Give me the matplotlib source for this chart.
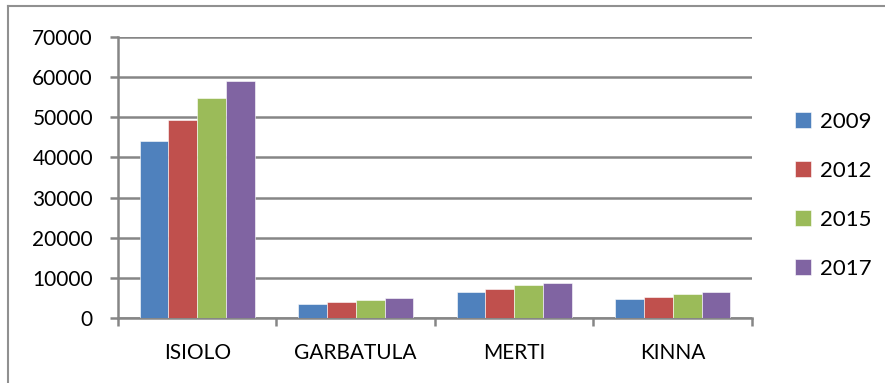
import numpy as np
import matplotlib.pyplot as plt
from matplotlib.lines import Line2D

plt.rcParams['font.family'] = ['Lato', 'DejaVu Sans']

places = ['ISIOLO', 'GARBATULA', 'MERTI', 'KINNA']
years = ['2009', '2012', '2015', '2017']
v2009 = [44000, 3600, 6550, 4800]
v2012 = [49200, 4050, 7250, 5300]
v2015 = [54800, 4550, 8150, 5950]
v2017 = [59000, 5000, 8750, 6450]
colors = ['#4F81BD', '#C0504D', '#9BBB59', '#8064A2']

fig = plt.figure(figsize=(8.85, 3.83), dpi=100)
ax = fig.add_axes([0.1333, 0.1697, 0.7164, 0.7337])

x = np.arange(len(places))
w = 0.182
for k, (vals, yr) in enumerate(zip([v2009, v2012, v2015, v2017], years)):
    ax.bar(x + (k - 1.5) * w, vals, w, color=colors[k], label=yr, zorder=3,
           edgecolor='white', linewidth=0.4)

gray = '#868686'
ax.set_xlim(-0.5, 3.5)
ax.set_ylim(0, 70000)
ax.set_yticks(range(0, 70001, 10000))
ax.grid(axis='y', color=gray, linewidth=1.8, zorder=0)
ax.set_xticks(x)
ax.set_xticklabels(places, fontsize=15)
ax.set_xticks(np.arange(-0.5, 4, 1), minor=True)
ax.tick_params(axis='x', which='major', length=0, pad=18)
ax.tick_params(axis='x', which='minor', length=6, width=1.8, color=gray)
ax.tick_params(axis='y', length=6, width=1.8, color=gray, labelsize=15, pad=12)
for s in ['top', 'right']:
    ax.spines[s].set_visible(False)
for s in ['left', 'bottom']:
    ax.spines[s].set_color(gray)
    ax.spines[s].set_linewidth(1.8)

ax.legend(loc='center left', bbox_to_anchor=(0.898, 0.49), bbox_transform=fig.transFigure,
          frameon=False, fontsize=16, handlelength=0.75, handleheight=0.75,
          labelspacing=1.3, handletextpad=0.4, borderaxespad=0, borderpad=0)

# border on the left and top only
fig.lines.append(Line2D([8 / 885, 8 / 885], [0, 1 - 6 / 383], transform=fig.transFigure,
                        color='#909090', linewidth=1.5))
fig.lines.append(Line2D([8 / 885, 1], [1 - 6 / 383, 1 - 6 / 383], transform=fig.transFigure,
                        color='#909090', linewidth=1.5))
fig.savefig('out.png', dpi=100)
